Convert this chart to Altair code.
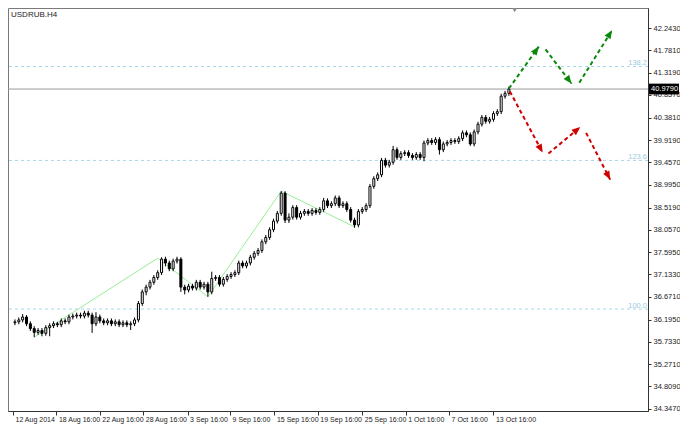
import math
import altair as alt
import pandas as pd

# ---------------- data ----------------
opens = [36.13, 36.15, 36.19, 36.25, 36.11, 36.01, 35.93, 35.97, 35.91, 36.03,
         36.07, 36.11, 36.09, 36.17, 36.15, 36.25, 36.27, 36.29, 36.27, 36.33,
         36.29, 36.11, 36.25, 36.17, 36.13, 36.17, 36.11, 36.15, 36.09, 36.13,
         36.09, 36.11, 36.19, 36.53, 36.77, 36.87, 36.97, 37.07, 37.17, 37.45,
         37.37, 37.25, 37.41, 37.45, 36.87, 36.81, 36.89, 36.85, 36.97, 36.87,
         36.93, 36.77, 37.05, 37.07, 36.93, 37.03, 37.09, 37.13, 37.17, 37.37,
         37.31, 37.37, 37.49, 37.57, 37.63, 37.81, 37.90, 38.06, 38.24, 38.40,
         38.82, 38.26, 38.32, 38.52, 38.32, 38.40, 38.44, 38.40, 38.46, 38.42,
         38.48, 38.66, 38.56, 38.60, 38.72, 38.56, 38.60, 38.48, 38.26, 38.16,
         38.44, 38.48, 38.56, 38.96, 39.12, 39.20, 39.50, 39.40, 39.46, 39.72,
         39.56, 39.64, 39.66, 39.60, 39.56, 39.62, 39.56, 39.86, 39.91, 39.87,
         39.93, 39.72, 39.84, 39.87, 39.91, 39.89, 39.95, 40.07, 40.03, 39.84,
         40.09, 40.25, 40.39, 40.31, 40.35, 40.47, 40.51, 40.83, 40.89]
highs = [36.20, 36.24, 36.31, 36.29, 36.16, 36.06, 36.02, 36.02, 36.08, 36.12,
         36.16, 36.15, 36.22, 36.22, 36.30, 36.32, 36.34, 36.34, 36.38, 36.38,
         36.34, 36.35, 36.30, 36.22, 36.22, 36.22, 36.20, 36.20, 36.18, 36.18,
         36.16, 36.24, 36.58, 36.82, 36.92, 37.02, 37.12, 37.22, 37.49, 37.50,
         37.42, 37.46, 37.50, 37.49, 36.92, 36.94, 36.94, 37.02, 37.02, 36.98,
         36.98, 37.19, 37.12, 37.12, 37.08, 37.14, 37.18, 37.22, 37.42, 37.42,
         37.42, 37.54, 37.62, 37.68, 37.86, 37.95, 38.11, 38.29, 38.45, 38.86,
         38.86, 38.40, 38.57, 38.57, 38.45, 38.49, 38.49, 38.51, 38.51, 38.53,
         38.72, 38.71, 38.65, 38.77, 38.77, 38.65, 38.65, 38.53, 38.31, 38.49,
         38.53, 38.61, 39.01, 39.17, 39.25, 39.55, 39.55, 39.51, 39.80, 39.77,
         39.69, 39.71, 39.71, 39.65, 39.67, 39.67, 39.91, 39.96, 39.96, 39.98,
         39.98, 39.89, 39.92, 39.96, 39.96, 40.00, 40.12, 40.12, 40.08, 40.14,
         40.30, 40.44, 40.44, 40.40, 40.52, 40.56, 40.88, 40.94, 41.03]
lows = [36.08, 36.10, 36.14, 36.06, 35.96, 35.83, 35.88, 35.85, 35.86, 35.85,
        36.02, 36.04, 36.04, 36.10, 36.10, 36.20, 36.22, 36.22, 36.22, 36.24,
        35.92, 36.06, 36.12, 36.08, 36.08, 36.06, 36.06, 36.04, 36.04, 36.04,
        35.98, 36.06, 36.14, 36.48, 36.70, 36.82, 36.92, 37.02, 37.12, 37.30,
        37.20, 37.20, 37.36, 36.77, 36.72, 36.76, 36.80, 36.80, 36.82, 36.82,
        36.67, 36.72, 37.00, 36.88, 36.88, 36.98, 37.04, 37.08, 37.12, 37.26,
        37.26, 37.32, 37.44, 37.52, 37.58, 37.76, 37.85, 38.01, 38.19, 38.35,
        38.20, 38.20, 38.27, 38.27, 38.27, 38.35, 38.35, 38.35, 38.37, 38.37,
        38.43, 38.51, 38.51, 38.55, 38.51, 38.51, 38.43, 38.21, 38.10, 38.11,
        38.39, 38.43, 38.51, 38.91, 39.07, 39.15, 39.35, 39.35, 39.41, 39.51,
        39.51, 39.59, 39.55, 39.51, 39.51, 39.51, 39.48, 39.81, 39.82, 39.82,
        39.62, 39.67, 39.79, 39.82, 39.84, 39.84, 39.90, 39.98, 39.80, 39.79,
        40.04, 40.20, 40.26, 40.26, 40.30, 40.42, 40.46, 40.78, 40.84]
closes = [36.15, 36.19, 36.25, 36.11, 36.01, 35.93, 35.97, 35.91, 36.03, 36.07,
          36.11, 36.09, 36.17, 36.15, 36.25, 36.27, 36.29, 36.27, 36.33, 36.29,
          36.11, 36.25, 36.17, 36.13, 36.17, 36.11, 36.15, 36.09, 36.13, 36.09,
          36.11, 36.19, 36.53, 36.77, 36.87, 36.97, 37.07, 37.17, 37.45, 37.37,
          37.25, 37.41, 37.45, 36.87, 36.81, 36.89, 36.85, 36.97, 36.87, 36.93,
          36.77, 37.05, 37.07, 36.93, 37.03, 37.09, 37.13, 37.17, 37.37, 37.31,
          37.37, 37.49, 37.57, 37.63, 37.81, 37.90, 38.06, 38.24, 38.40, 38.82,
          38.26, 38.32, 38.52, 38.32, 38.40, 38.44, 38.40, 38.46, 38.42, 38.48,
          38.66, 38.56, 38.60, 38.72, 38.56, 38.60, 38.48, 38.26, 38.16, 38.44,
          38.48, 38.56, 38.96, 39.12, 39.20, 39.50, 39.40, 39.46, 39.72, 39.56,
          39.64, 39.66, 39.60, 39.56, 39.62, 39.56, 39.86, 39.91, 39.87, 39.93,
          39.72, 39.84, 39.87, 39.91, 39.89, 39.95, 40.07, 40.03, 39.84, 40.09,
          40.25, 40.39, 40.31, 40.35, 40.47, 40.51, 40.83, 40.89, 40.979]

zigzag_bar = [5, 37, 50, 69, 88]
zigzag_price = [35.83, 37.47, 36.67, 38.86, 38.12]

fib_levels = [36.415, 39.498, 41.447]
fib_labels = ["100.0", "123.6", "138.2"]

last_price = 40.979
last_label = "40.9790"
symbol_title = "USDRUB.H4"

arrow_dir = ["up", "up", "up", "down", "down", "down"]
arrow_x1 = [128.0, 137.5, 146.25, 128.25, 138.25, 148.0]
arrow_x2 = [135.75, 144.25, 154.75, 136.75, 146.5, 154.25]
arrow_p1 = [40.99, 41.80, 41.11, 40.93, 39.64, 40.07]
arrow_p2 = [41.86, 41.09, 42.20, 39.66, 40.19, 39.10]

y_ticks = [34.347, 34.809, 35.271, 35.733, 36.195, 36.671, 37.133, 37.595, 38.057,
           38.519, 38.995, 39.457, 39.919, 40.381, 40.857, 41.319, 41.781, 42.243]
x_tick_pos = [-0.5, 10.75, 22, 33.25, 44.75, 55.75, 67.25, 78.5, 90, 101.25, 112.5, 124]
x_tick_labels = ["12 Aug 2014", "18 Aug 16:00", "22 Aug 16:00", "28 Aug 16:00",
                 "3 Sep 16:00", "9 Sep 16:00", "15 Sep 16:00", "19 Sep 16:00",
                 "25 Sep 16:00", "1 Oct 16:00", "7 Oct 16:00", "13 Oct 16:00"]
shift_marker_bar = 129.5

# ---------------- layout ----------------
W, H = 640, 403
PAD_R, PAD_B = 32, 13
XMIN, XMAX = -0.5, 162.75
YMIN, YMAX = 34.30, 42.66
FONT = "Liberation Sans"

n = len(closes)
assert len(opens) == n and len(highs) == n and len(lows) == n

candles = pd.DataFrame({"i": list(range(n)), "o": opens, "h": highs, "l": lows, "c": closes})
candles["bull"] = candles["c"] >= candles["o"]

zig = pd.DataFrame({"i": zigzag_bar, "p": zigzag_price})
fib = pd.DataFrame({"p": fib_levels, "t": fib_labels})
last = pd.DataFrame({"p": [last_price], "t": [last_label]})
title_df = pd.DataFrame({"t": [symbol_title]})
marker_df = pd.DataFrame({"i": [shift_marker_bar]})

ppx = W / (XMAX - XMIN)
ppy = H / (YMAX - YMIN)
angles = [(math.degrees(math.atan2((b - a) * ppx, (q - p) * ppy)) + 360) % 360
          for a, b, p, q in zip(arrow_x1, arrow_x2, arrow_p1, arrow_p2)]
arrows = pd.DataFrame({"d": arrow_dir, "x1": arrow_x1, "x2": arrow_x2,
                       "p1": arrow_p1, "p2": arrow_p2, "ang": angles})

label_expr = "{}[indexof({}, datum.value)]".format(
    "[" + ",".join("'" + s + "'" for s in x_tick_labels) + "]",
    "[" + ",".join(str(v) for v in x_tick_pos) + "]")

xscale = alt.Scale(domain=[XMIN, XMAX], nice=False, zero=False)
yscale = alt.Scale(domain=[YMIN, YMAX], nice=False, zero=False)
xaxis = alt.Axis(title=None, values=x_tick_pos, labelExpr=label_expr, grid=False,
                 labelAlign="left", labelBaseline="top", labelOffset=2, labelPadding=0,
                 tickSize=4, tickColor="#333333", domainColor="#333333",
                 labelFont=FONT, labelFontSize=7, labelColor="#222222",
                 labelOverlap=False, labelFlush=False, zindex=0)
yaxis = alt.Axis(title=None, orient="right", values=y_ticks, format=".4f", grid=False,
                 tickSize=3, tickColor="#333333", domainColor="#333333", labelPadding=2,
                 labelFont=FONT, labelFontSize=7.5, labelColor="#222222",
                 labelOverlap=False, labelFlush=False, zindex=0)


def X(field):
    return alt.X(field, type="quantitative", scale=xscale, axis=xaxis)


def Y(field):
    return alt.Y(field, type="quantitative", scale=yscale, axis=yaxis)


fib_rules = alt.Chart(fib).mark_rule(color="#a9d6ea", strokeDash=[3, 3], strokeWidth=1).encode(y=Y("p"))
fib_text = alt.Chart(fib).mark_text(align="right", baseline="middle", dy=-3, font=FONT,
                                    fontSize=7.5, color="#9ccbe0").encode(
    x=alt.value(W - 1), y=Y("p"), text="t:N")
price_line = alt.Chart(last).mark_rule(color="#9a9a9a", strokeWidth=1).encode(y=Y("p"))
zig_line = alt.Chart(zig).mark_line(color="#98ee98", strokeWidth=1).encode(x=X("i"), y=Y("p"))

wicks = alt.Chart(candles).mark_rule(color="#000000", strokeWidth=1).encode(
    x=X("i"), y=Y("l"), y2="h")
bodies = alt.Chart(candles).mark_bar(size=2, stroke="#000000", strokeWidth=1).encode(
    x=X("i"), y=Y("o"), y2="c",
    fill=alt.condition("datum.bull", alt.value("#ffffff"), alt.value("#000000")))

color_scale = alt.Scale(domain=["up", "down"], range=["#0a8a0a", "#d00000"])
arrow_lines = alt.Chart(arrows).mark_rule(strokeDash=[4, 3], strokeWidth=2).encode(
    x=X("x1"), x2="x2", y=Y("p1"), y2="p2",
    color=alt.Color("d:N", scale=color_scale, legend=None))
arrow_heads = alt.Chart(arrows).mark_point(
    shape="M0,0L-0.7,1.7L0.7,1.7Z", filled=True, opacity=1, size=100, strokeWidth=0).encode(
    x=X("x2"), y=Y("p2"), angle=alt.Angle("ang:Q", scale=None),
    color=alt.Color("d:N", scale=color_scale, legend=None))

title_text = alt.Chart(title_df).mark_text(align="left", baseline="top", font=FONT,
                                           fontSize=8, color="#222222").encode(
    x=alt.value(3), y=alt.value(3), text="t:N")
price_box = alt.Chart(last).mark_point(
    shape="M0,-0.36L2,-0.36L2,0.36L0,0.36Z", filled=True, color="#000000",
    opacity=1, size=900, strokeWidth=0).encode(x=alt.value(W + 1), y=Y("p"))
price_text = alt.Chart(last).mark_text(align="left", baseline="middle", font=FONT,
                                       fontSize=7.5, color="#ffffff").encode(
    x=alt.value(W + 3), y=Y("p"), text="t:N")
shift_marker = alt.Chart(marker_df).mark_point(shape="triangle-down", filled=True,
                                               color="#8c8c8c", opacity=1, size=30).encode(
    x=X("i"), y=alt.value(2))

chart = alt.layer(
    fib_rules, fib_text, price_line, zig_line, wicks, bodies,
    arrow_lines, arrow_heads, title_text, price_box, price_text, shift_marker
).properties(
    width=W, height=H,
    autosize=alt.AutoSizeParams(type="none"),
    padding={"left": 0, "top": 0, "right": PAD_R, "bottom": PAD_B},
    background="#ffffff",
).configure_view(stroke="#7a7a7a", strokeWidth=1)

chart.save("out.html", embed_options={"renderer": "svg", "actions": False})
